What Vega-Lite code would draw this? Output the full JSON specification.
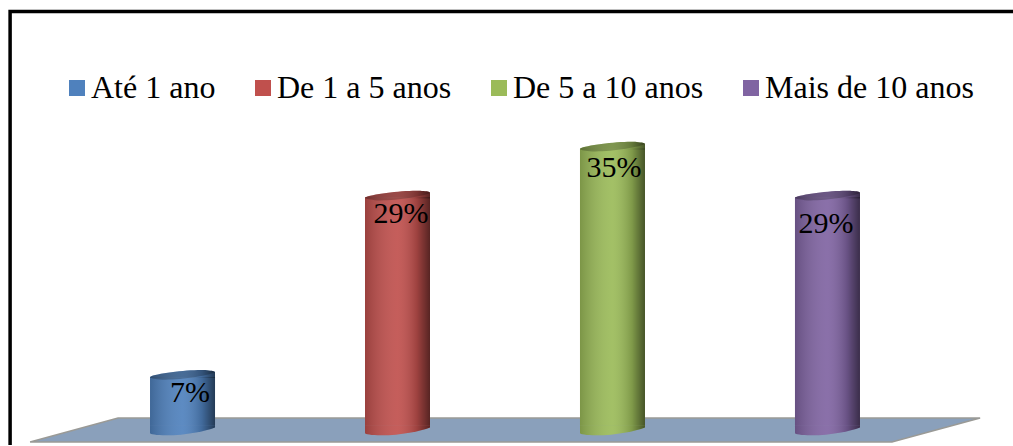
{
  "$schema": "https://vega.github.io/schema/vega-lite/v6.json",
  "width": 1013,
  "height": 446,
  "padding": 0,
  "autosize": {"type": "fit", "contains": "padding"},
  "background": "white",
  "view": {"stroke": null},
  "config": {"font": "Liberation Serif"},
  "datasets": {
    "tempo": [
      {"grupo": "Até 1 ano", "ordem": 1, "pct": 7, "rotulo": "7%"},
      {"grupo": "De 1 a 5 anos", "ordem": 2, "pct": 29, "rotulo": "29%"},
      {"grupo": "De 5 a 10 anos", "ordem": 3, "pct": 35, "rotulo": "35%"},
      {"grupo": "Mais de 10 anos", "ordem": 4, "pct": 29, "rotulo": "29%"}
    ],
    "piso": [
      {"px": 0.291, "topo": -0.98, "base": -0.98},
      {"px": 0.7, "topo": 1.96, "base": -0.98},
      {"px": 4.3, "topo": 1.96, "base": -0.98},
      {"px": 4.71, "topo": 1.96, "base": 1.96}
    ],
    "moldura": [{"x0": 0.198, "x1": 4.95, "y0": 51.84, "y1": -4}]
  },
  "layer": [
    {
      "data": {"name": "moldura"},
      "mark": {"type": "rect", "fill": "white", "stroke": "black", "strokeWidth": 3.5, "clip": true},
      "encoding": {
        "x": {"field": "x0", "type": "quantitative", "scale": {"domain": [0.151, 4.863], "nice": false, "zero": false, "padding": 0}, "axis": null},
        "x2": {"field": "x1"},
        "y": {"field": "y0", "type": "quantitative", "scale": {"domain": [-1.346, 53.24], "nice": false, "zero": false, "padding": 0}, "axis": null},
        "y2": {"field": "y1"}
      }
    },
    {
      "data": {"name": "piso"},
      "mark": {"type": "area", "fill": "#8aa0bb", "stroke": "#9a9a96", "strokeWidth": 1.5},
      "encoding": {
        "x": {"field": "px", "type": "quantitative"},
        "y": {"field": "topo", "type": "quantitative"},
        "y2": {"field": "base"}
      }
    },
    {
      "data": {"name": "tempo"},
      "encoding": {
        "x": {"field": "ordem", "type": "quantitative"}
      },
      "layer": [
        {
          "mark": {"type": "point", "filled": true, "opacity": 1, "size": 4225,
            "shape": "M-1,-0.02 L1,-0.02 L1,0.05 C0.7,0.17 0.1,0.29 -0.5,0.29 C-0.8,0.29 -1,0.26 -1,0.22 Z"},
          "encoding": {
            "y": {"datum": 1, "type": "quantitative"},
            "color": {"field": "grupo", "type": "nominal"}
          }
        },
        {
          "mark": {"type": "point", "filled": true, "opacity": 1, "size": 4225,
            "shape": "M-1,-0.02 L1,-0.02 L1,0.05 C0.7,0.17 0.1,0.29 -0.5,0.29 C-0.8,0.29 -1,0.26 -1,0.22 Z",
            "fill": {"x1": 0, "x2": 1, "y1": 0, "y2": 0, "gradient": "linear", "stops": [
              {"offset": 0, "color": "rgba(0,0,0,0.2)"},
              {"offset": 0.5, "color": "rgba(255,255,255,0.08)"},
              {"offset": 0.8, "color": "rgba(0,0,0,0.18)"},
              {"offset": 1, "color": "rgba(0,0,0,0.55)"}
            ]}},
          "encoding": {"y": {"datum": 1, "type": "quantitative"}}
        },
        {
          "mark": {"type": "bar", "size": 65},
          "encoding": {
            "y": {"field": "pct", "type": "quantitative"},
            "y2": {"datum": 1},
            "color": {
              "field": "grupo",
              "type": "nominal",
              "sort": null,
              "scale": {"domain": ["Até 1 ano", "De 1 a 5 anos", "De 5 a 10 anos", "Mais de 10 anos"], "range": ["#4f81bd", "#c0504d", "#9bbb59", "#8064a2"]},
              "legend": {
                "title": null,
                "orient": "none",
                "legendX": 61,
                "legendY": 72,
                "direction": "horizontal",
                "columns": 4,
                "symbolType": "square",
                "symbolSize": 256,
                "symbolStrokeWidth": 0,
                "symbolOpacity": 1,
                "labelFont": "Liberation Serif",
                "labelFontSize": 32,
                "labelColor": "black",
                "labelLimit": 400,
                "labelOffset": -2,
                "columnPadding": 31,
                "rowPadding": 0,
                "encoding": {"labels": {"update": {"dy": {"value": 2}}}}
              }
            }
          }
        },
        {
          "mark": {"type": "point", "filled": true, "opacity": 1, "size": 4225,
            "shape": "M-1,0.02 L-1,0 C-0.8,-0.12 0.4,-0.25 0.8,-0.2 C0.95,-0.19 1,-0.17 1,-0.15 L1,0.02 Z"},
          "encoding": {
            "y": {"field": "pct", "type": "quantitative"},
            "color": {"field": "grupo", "type": "nominal"}
          }
        },
        {
          "mark": {"type": "bar", "size": 65,
            "fill": {"x1": 0, "x2": 1, "y1": 0, "y2": 0, "gradient": "linear", "stops": [
              {"offset": 0, "color": "rgba(0,0,0,0.2)"},
              {"offset": 0.5, "color": "rgba(255,255,255,0.08)"},
              {"offset": 0.8, "color": "rgba(0,0,0,0.18)"},
              {"offset": 1, "color": "rgba(0,0,0,0.55)"}
            ]}},
          "encoding": {
            "y": {"field": "pct", "type": "quantitative"},
            "y2": {"datum": 1}
          }
        },
        {
          "mark": {"type": "point", "filled": true, "opacity": 1, "size": 4225,
            "shape": "M-1,0.02 L-1,0 C-0.8,-0.12 0.4,-0.25 0.8,-0.2 C0.95,-0.19 1,-0.17 1,-0.15 L1,0.02 Z",
            "fill": {"x1": 0, "x2": 1, "y1": 0, "y2": 0, "gradient": "linear", "stops": [
              {"offset": 0, "color": "rgba(0,0,0,0.2)"},
              {"offset": 0.5, "color": "rgba(255,255,255,0.08)"},
              {"offset": 0.8, "color": "rgba(0,0,0,0.18)"},
              {"offset": 1, "color": "rgba(0,0,0,0.55)"}
            ]}},
          "encoding": {"y": {"field": "pct", "type": "quantitative"}}
        },
        {
          "mark": {"type": "point", "filled": true, "opacity": 1, "size": 4225, "fill": "rgba(0,0,0,0.22)",
            "shape": "M-1,0 C-0.8,-0.12 0.4,-0.25 0.8,-0.2 C0.95,-0.19 1,-0.17 1,-0.15 C0.9,-0.05 -0.2,0.12 -0.7,0.08 C-0.9,0.06 -1,0.03 -1,0 Z"},
          "encoding": {"y": {"field": "pct", "type": "quantitative"}}
        },
        {
          "transform": [{"filter": "datum.ordem == 1"}],
          "mark": {"type": "text", "font": "Liberation Serif", "fontSize": 30, "color": "black", "dx": 7.5, "dy": 16},
          "encoding": {"y": {"field": "pct", "type": "quantitative"}, "text": {"field": "rotulo"}}
        },
        {
          "transform": [{"filter": "datum.ordem == 2"}],
          "mark": {"type": "text", "font": "Liberation Serif", "fontSize": 30, "color": "black", "dx": 3.5, "dy": 16},
          "encoding": {"y": {"field": "pct", "type": "quantitative"}, "text": {"field": "rotulo"}}
        },
        {
          "transform": [{"filter": "datum.ordem == 3"}],
          "mark": {"type": "text", "font": "Liberation Serif", "fontSize": 30, "color": "black", "dx": 1.5, "dy": 19},
          "encoding": {"y": {"field": "pct", "type": "quantitative"}, "text": {"field": "rotulo"}}
        },
        {
          "transform": [{"filter": "datum.ordem == 4"}],
          "mark": {"type": "text", "font": "Liberation Serif", "fontSize": 30, "color": "black", "dx": -1.5, "dy": 26},
          "encoding": {"y": {"field": "pct", "type": "quantitative"}, "text": {"field": "rotulo"}}
        }
      ]
    }
  ]
}
